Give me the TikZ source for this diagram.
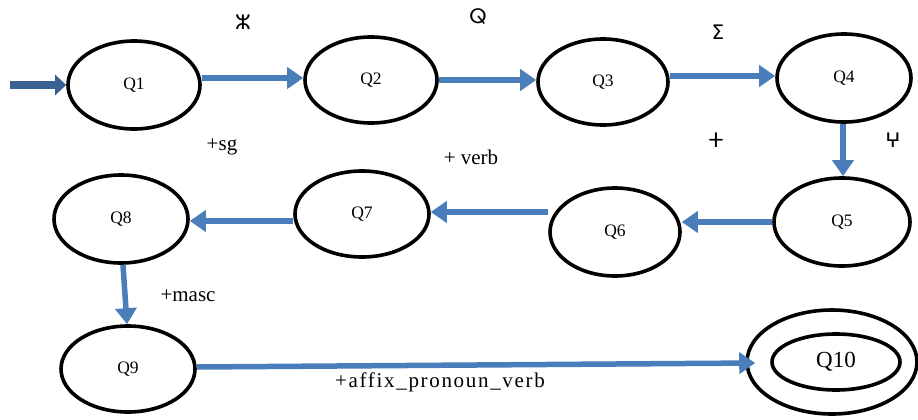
\documentclass[tikz,border=0pt]{standalone}
\usepackage{fontspec}
\setmainfont{Liberation Serif}
\newfontfamily\tfng{DejaVu Sans}
\usetikzlibrary{arrows.meta,shapes.geometric}
\definecolor{arrblue}{RGB}{74,126,187}
\definecolor{initblue}{RGB}{56,96,146}
\tikzset{
  state/.style={ellipse, draw=black, line width=3.6pt, inner sep=0pt,
    minimum width=132pt, minimum height=86pt, font=\fontsize{17.5}{17.5}\selectfont},
  trans/.style={draw=arrblue, line width=5.5pt,
    -{Triangle[length=16pt,width=21pt]}},
  lab/.style={font=\fontsize{21}{21}\selectfont, inner sep=0pt},
  tlab/.style={font=\tfng\fontsize{20}{20}\selectfont, inner sep=0pt},
}
\begin{document}
\begin{tikzpicture}[x=1pt,y=-1pt]
\useasboundingbox (0,0) rectangle (918,420);

% states
\node[state, minimum height=88pt] (Q1) at (134,85) {Q1};
\node[state] (Q2) at (371,80) {Q2};
\node[state, minimum width=130pt] (Q3) at (603,82) {Q3};
\node[state, minimum width=134pt, minimum height=88pt] (Q4) at (844,78) {Q4};
\node[state, minimum width=136pt, minimum height=88pt] (Q5) at (842,222) {Q5};
\node[state, minimum width=130pt, minimum height=88pt] (Q6) at (615,232) {Q6};
\node[state, minimum width=134pt] (Q7) at (362,214) {Q7};
\node[state, minimum width=134pt, minimum height=88pt] (Q8) at (121,219) {Q8};
\node[state, minimum width=134pt] (Q9) at (128,369) {Q9};
% final state: double ellipse
\node[state, minimum width=170pt, minimum height=104pt] (Q10) at (832,362) {};
\node[state, minimum width=128pt, minimum height=56pt,
  font=\fontsize{23}{23}\selectfont] (Q10in) at (836,362) {Q10};

% start arrow
\coordinate (start) at (10,85);
\draw[draw=initblue, line width=8pt, -{Triangle[length=11pt,width=20pt]}]
  (start) -- (Q1.west);

% transitions
\draw[trans] ([yshift=7pt]Q1.east) -- ([yshift=2pt]Q2.west);
\draw[trans] (Q2.east) -- ([yshift=2pt]Q3.west);
\draw[trans] ([yshift=6pt]Q3.east) -- ([yshift=2pt]Q4.west);
\draw[trans] ([xshift=-1pt]Q4.south) -- ([xshift=1pt]Q5.north);
\draw[trans] (Q5.west) -- ([yshift=10pt]Q6.east);
\draw[trans] ([yshift=20pt]Q6.west) -- ([yshift=2pt]Q7.east);
\draw[trans] ([yshift=-7pt]Q7.west) -- ([yshift=-2pt]Q8.east);
\draw[trans] ([xshift=2pt]Q8.south) -- ([xshift=-1pt]Q9.north);
\draw[trans] ([yshift=2pt]Q9.east) -- ([xshift=10pt,yshift=-1pt]Q10.west);

% transition labels
\node[tlab] (l12) at (243,22) {ⵣ};
\node[tlab] (l23) at (478,17) {ⵕ};
\node[tlab] (l34) at (718,32) {ⵉ};
\node[tlab] (l45) at (893,140) {ⵖ};
\node[tlab] (l56) at (716,140) {ⵜ};
\node[lab] (l67) at (471,157) {+ verb};
\node[lab] (l78) at (222,147) {+sg};
\node[lab] (l89) at (188,296) {+masc};
\node[lab] (l910) at (440,382)
  {\addfontfeature{LetterSpace=8}+affix\_pronoun\_verb};
\end{tikzpicture}
\end{document}
